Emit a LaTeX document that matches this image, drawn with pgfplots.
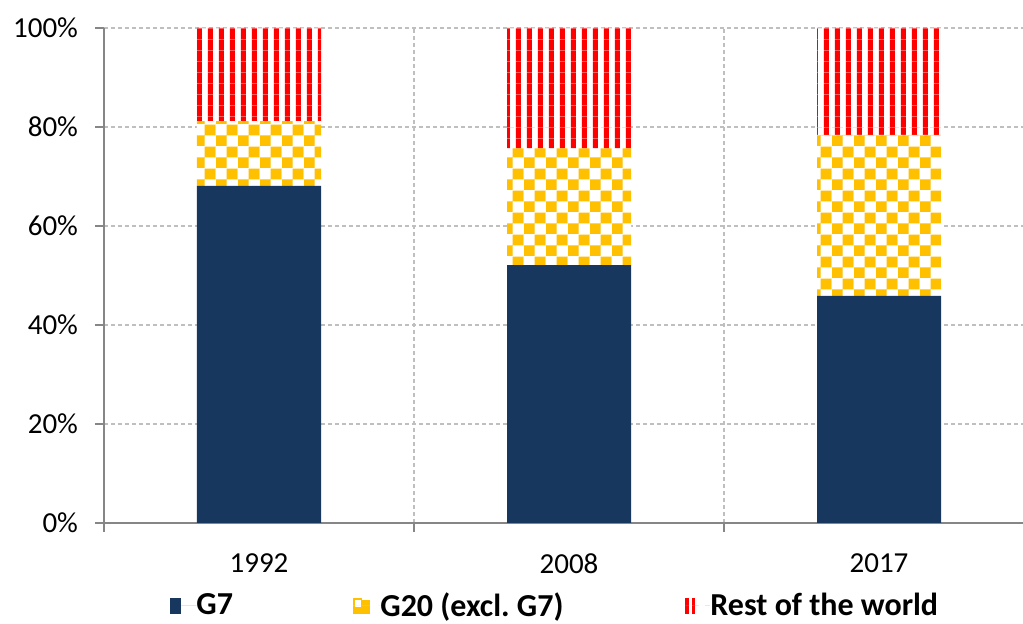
\documentclass[border=0pt]{standalone}
\usepackage{fontspec}
\setmainfont{Carlito}
\usepackage{pgfplots}
\pgfplotsset{compat=1.18}
\usetikzlibrary{patterns,calc}

\definecolor{gseven}{HTML}{17375E}
\definecolor{gtwenty}{HTML}{FFC000}
\definecolor{restc}{HTML}{FF0000}
\definecolor{gridc}{HTML}{BFBFBF}
\definecolor{axisc}{HTML}{868686}

% orange/white checkerboard
\pgfdeclarepatterninherentlycolored{checker}{\pgfpointorigin}{\pgfqpoint{10.8pt}{10.8pt}}{\pgfqpoint{10.8pt}{10.8pt}}{
  \pgfsetfillcolor{white}
  \pgfpathrectangle{\pgfpointorigin}{\pgfqpoint{10.8pt}{10.8pt}}
  \pgfusepath{fill}
  \pgfsetfillcolor{gtwenty}
  \pgfpathrectangle{\pgfpointorigin}{\pgfqpoint{5.4pt}{5.4pt}}
  \pgfpathrectangle{\pgfqpoint{5.4pt}{5.4pt}}{\pgfqpoint{5.4pt}{5.4pt}}
  \pgfusepath{fill}
}
% red/white vertical stripes
\pgfdeclarepatterninherentlycolored{redstripes}{\pgfpointorigin}{\pgfqpoint{5.4pt}{5.4pt}}{\pgfqpoint{5.4pt}{5.4pt}}{
  \pgfsetfillcolor{white}
  \pgfpathrectangle{\pgfpointorigin}{\pgfqpoint{5.4pt}{5.4pt}}
  \pgfusepath{fill}
  \pgfsetfillcolor{restc}
  \pgfpathrectangle{\pgfqpoint{1.4pt}{0pt}}{\pgfqpoint{2.6pt}{5.4pt}}
  \pgfusepath{fill}
}

\begin{document}
\frenchspacing
\begin{tikzpicture}
\begin{axis}[
  scale only axis,
  width=459.5pt, height=247.5pt,
  ybar stacked, bar width=0.4,
  xmin=-0.5, xmax=2.4645, ymin=0, ymax=100,
  axis x line*=bottom, axis y line*=left,
  axis line style={axisc, line width=0.6pt},
  tick align=outside, major tick length=4.5pt,
  tick style={axisc, line width=0.6pt},
  xtick={-0.5,0.5,1.5}, xticklabels={},
  extra x ticks={0,1,2}, extra x tick labels={1992,2008,2017},
  extra x tick style={grid=none, major tick length=0pt, xticklabel style={yshift=-12pt}},
  ytick={0,20,...,100},
  yticklabel={\pgfmathprintnumber{\tick}\%},
  yticklabel style={xshift=-5pt},
  /pgf/number format/assume math mode=true,
  ticklabel style={font=\fontsize{14.5}{17}\selectfont},
  grid=major,
  major grid style={gridc, line width=0.6pt, dash pattern=on 2pt off 1.5pt},
  legend columns=3,
  legend style={draw=none, fill=none, at={(0.0718,-0.1670)}, anchor=west,
    inner sep=0pt, column sep=0pt, nodes={inner sep=0pt},
    font=\bfseries\fontsize{16}{19}\selectfont},
]
\coordinate (ll) at (rel axis cs:0,0);
\coordinate (ur) at (rel axis cs:1,1);
\addplot[fill=gseven, draw=none,
  legend image code/.code={\fill[gseven] (0pt,-4pt) rectangle (5.5pt,4pt); \path (0pt,0pt) -- (13pt,0pt);}]
  coordinates {(0,68.1) (1,52.1) (2,45.9)};
\addlegendentry{\makebox[78.5pt][l]{G7}}
\addplot[pattern=checker, draw=none,
  legend image code/.code={\fill[gtwenty] (0pt,-4pt) rectangle (8.5pt,4pt);
    \fill[white] (1pt,-0.5pt) rectangle (4pt,3pt); \fill[white] (4.5pt,3pt) rectangle (8.5pt,4pt);
    \path (0pt,0pt) -- (13.5pt,0pt);}]
  coordinates {(0,13.1) (1,23.6) (2,32.5)};
\addlegendentry{\makebox[152.5pt][l]{G20 (excl. G7)}}
\addplot[pattern=redstripes, draw=none,
  legend image code/.code={\fill[restc] (0pt,-4pt) rectangle (1.75pt,4pt);
    \fill[restc] (3.25pt,-4pt) rectangle (5pt,4pt); \path (0pt,0pt) -- (12.5pt,0pt);}]
  coordinates {(0,18.8) (1,24.3) (2,21.6)};
\addlegendentry{Rest of the world}
\end{axis}
\pgfresetboundingbox
\path ($(ll)+(-52pt,-50.5pt)$) rectangle ($(ur)+(0pt,14pt)$);
\end{tikzpicture}
\end{document}
